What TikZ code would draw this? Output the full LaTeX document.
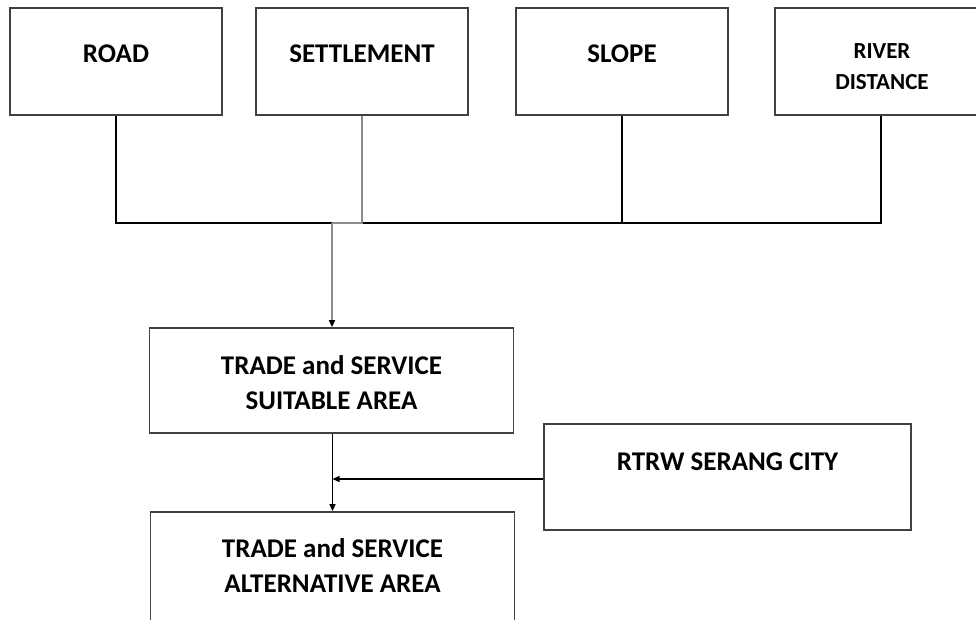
\documentclass[tikz,border=0pt]{standalone}
\usepackage{fontspec}
\setmainfont{Carlito}
\usetikzlibrary{positioning,calc,arrows.meta}

\begin{document}
\begin{tikzpicture}[x=1pt, y=-1pt,
		box/.style={draw=black!75, line width=1.8pt, minimum width=212pt, minimum height=107pt, inner sep=0pt},
		widebox/.style={box, minimum width=364pt, minimum height=105pt},
		txt/.style={align=center, inner sep=0pt, font=\bfseries\fontsize{27}{35}\selectfont},
		link/.style={line width=1.4pt, black},
		greylink/.style={line width=2.4pt, black!45},
		tip/.style={-{Triangle[color=black, length=7pt, width=6pt]}}]
		\clip (0, 0) rectangle (976, 619);
		\fill[white] (0, 0) rectangle (976, 619);

		\node[box] (road) at (116, 61.5) {};
		\node[box] (settlement) at (362, 61.5) {};
		\node[box] (slope) at (622, 61.5) {};
		\node[box] (river) at (881, 61.5) {};
		\node[txt] (roadtxt) at (116, 54) {ROAD};
		\node[txt] (settlementtxt) at (362, 54) {SETTLEMENT};
		\node[txt] (slopetxt) at (622, 54) {SLOPE};
		\node[txt, font=\bfseries\fontsize{23}{31}\selectfont] (rivertxt) at (882, 67) {RIVER\\DISTANCE};

		\node[widebox] (suitable) at (331.5, 380.5) {};
		\node[txt] (suitabletxt) at (331.5, 382.5) {TRADE and SERVICE\\SUITABLE AREA};
		\node[box, minimum width=367pt, minimum height=106pt] (rtrw) at (727.5, 477) {};
		\node[txt] (rtrwtxt) at (727.5, 462) {RTRW SERANG CITY};
		\node[widebox, minimum height=140pt] (alternative) at (332.5, 582) {};
		\node[txt] (alternativetxt) at (332.5, 565.5) {TRADE and SERVICE\\ALTERNATIVE AREA};

		\coordinate (joint) at (332, 223);
		\coordinate (setjoint) at (362, 223);
		\draw[link] (road.south) |- (joint);
		\draw[link] (river.south) |- (setjoint);
		\draw[link] (slope.south) -- (slope.south |- setjoint);
		\draw[greylink] (settlement.south) -- (setjoint) -- (joint);
		\draw[greylink, tip] (joint) -- (joint |- suitable.north);

		\coordinate (merge) at ($(rtrw.west -| alternative.north) + (0, 2)$);
		\draw[link, tip] (alternative.north |- suitable.south) -- (alternative.north);
		\draw[link, tip] (rtrw.west |- merge) -- (merge);
\end{tikzpicture}
\end{document}
